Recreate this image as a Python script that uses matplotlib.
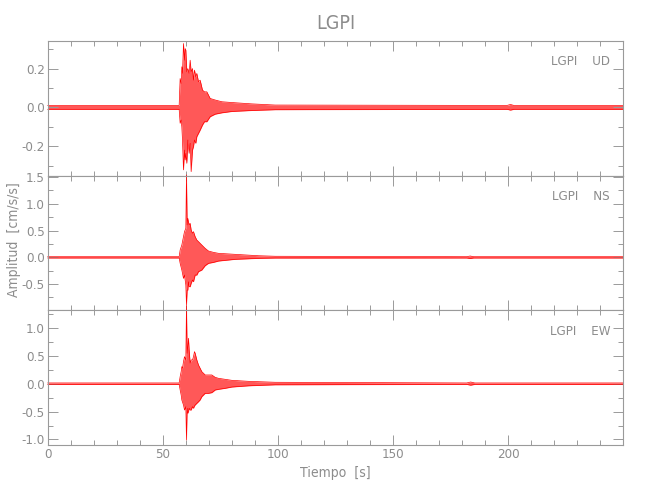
import matplotlib
matplotlib.use('Agg')
import matplotlib.pyplot as plt
from matplotlib.ticker import MultipleLocator

# envelopes (time in s, amplitude in cm/s/s)
t_ud = [0, 57.09, 57.52, 57.96, 58.25, 58.54, 58.97, 59.41, 59.70, 59.99, 60.42, 60.86,
        61.43, 61.87, 62.30, 62.88, 63.32, 63.75, 64.33, 64.77, 65.49, 66.22, 67.23,
        68.10, 69.12, 70.57, 72.74, 75.64, 79.99, 88.68, 98.83, 199.5, 201.0, 202.5, 250]
up_ud = [0.010, 0.010, 0.149, 0.123, 0.209, 0.175, 0.329, 0.243, 0.303, 0.295, 0.183, 0.200,
         0.175, 0.243, 0.183, 0.200, 0.140, 0.192, 0.157, 0.175, 0.132, 0.140, 0.089,
         0.080, 0.080, 0.046, 0.038, 0.029, 0.025, 0.018, 0.012, 0.010, 0.015, 0.010, 0.010]
lo_ud = [-0.010, -0.010, -0.082, -0.065, -0.100, -0.168, -0.322, -0.220, -0.271, -0.237, -0.288, -0.168,
         -0.237, -0.185, -0.331, -0.220, -0.202, -0.168, -0.185, -0.151, -0.134, -0.117, -0.091,
         -0.074, -0.074, -0.048, -0.035, -0.028, -0.021, -0.016, -0.012, -0.010, -0.014, -0.010, -0.010]

t_ns = [0, 57.09, 57.52, 58.25, 58.97, 59.41, 59.99, 60.27, 60.57, 60.86, 61.14, 61.43,
        61.87, 62.30, 62.88, 63.32, 64.04, 64.77, 65.49, 66.94, 68.39, 69.84, 72.01,
        74.19, 81.43, 91.58, 98.83, 182.0, 183.5, 185.0, 250]
up_ns = [0.012, 0.012, 0.137, 0.230, 0.386, 0.480, 0.543, 1.541, 0.605, 0.730, 0.667, 0.605,
         0.636, 0.511, 0.449, 0.480, 0.386, 0.324, 0.293, 0.230, 0.168, 0.118, 0.093,
         0.075, 0.056, 0.030, 0.020, 0.012, 0.025, 0.012, 0.012]
lo_ns = [-0.012, -0.012, -0.112, -0.237, -0.393, -0.331, -0.518, -0.893, -0.612, -0.612, -0.456, -0.549,
         -0.549, -0.486, -0.424, -0.456, -0.331, -0.331, -0.268, -0.237, -0.156, -0.112, -0.094,
         -0.069, -0.037, -0.019, -0.013, -0.012, -0.022, -0.012, -0.012]

t_ew = [0, 57.09, 57.52, 57.96, 58.25, 58.54, 58.97, 59.41, 59.99, 60.27, 60.57, 60.86,
        61.14, 61.43, 61.87, 62.30, 62.88, 63.32, 63.75, 64.04, 64.77, 65.49, 66.22,
        66.94, 67.67, 68.39, 69.84, 71.29, 72.74, 74.19, 77.09, 79.99, 87.23, 98.83,
        182.0, 183.7, 185.5, 250]
up_ew = [0.013, 0.013, 0.126, 0.215, 0.305, 0.275, 0.394, 0.484, 0.425, 1.40, 0.544, 0.664,
         0.814, 0.604, 0.365, 0.425, 0.425, 0.484, 0.574, 0.544, 0.425, 0.335, 0.275,
         0.215, 0.186, 0.156, 0.156, 0.156, 0.114, 0.096, 0.078, 0.060, 0.042, 0.025,
         0.013, 0.030, 0.013, 0.013]
lo_ew = [-0.013, -0.013, -0.113, -0.203, -0.293, -0.330, -0.382, -0.472, -0.412, -1.01, -0.441, -0.531,
         -0.502, -0.441, -0.472, -0.472, -0.412, -0.441, -0.400, -0.382, -0.352, -0.323, -0.290,
         -0.233, -0.203, -0.173, -0.173, -0.161, -0.113, -0.101, -0.083, -0.060, -0.038, -0.020,
         -0.013, -0.027, -0.013, -0.013]

station = 'LGPI'
components = ['UD', 'NS', 'EW']
ylims = [(-0.352, 0.342), (-0.99, 1.528), (-1.099, 1.315)]
ymajor = [0.2, 0.5, 0.5]
yminor = [0.1, 0.25, 0.25]
xticks = [0, 50, 100, 150, 200]

gray = '#9a9a9a'
tgray = '#8c8c8c'
plt.rcParams['font.family'] = ['DejaVu Sans']
plt.rcParams['font.stretch'] = 'condensed'
plt.rcParams['axes.unicode_minus'] = False

fig = plt.figure(figsize=(6.5, 5), dpi=100)
data = [(t_ud, up_ud, lo_ud), (t_ns, up_ns, lo_ns), (t_ew, up_ew, lo_ew)]
bottoms = [0.6486, 0.3794, 0.110]
axes = []
for i, (t, up, lo) in enumerate(data):
    ax = fig.add_axes([0.0734, bottoms[i], 0.8855, 0.2694])
    ax.fill_between(t, lo, up, color='#ff2020', alpha=0.75, linewidth=0)
    ax.plot(t, up, color='red', lw=0.5, clip_on=False)
    ax.plot(t, lo, color='red', lw=0.5, clip_on=False)
    ax.set_xlim(0, 250)
    ax.set_ylim(*ylims[i])
    ax.xaxis.set_major_locator(MultipleLocator(50))
    ax.xaxis.set_minor_locator(MultipleLocator(10))
    ax.yaxis.set_major_locator(MultipleLocator(ymajor[i]))
    ax.yaxis.set_minor_locator(MultipleLocator(yminor[i]))
    ax.tick_params(which='both', direction='in', top=True, right=True, color=gray,
                   width=0.7, labelcolor=tgray, labelsize=9.5, pad=2)
    ax.tick_params(which='major', length=7)
    ax.tick_params(which='minor', length=3.6)
    for s in ax.spines.values():
        s.set_color(gray)
        s.set_linewidth(0.8)
    if i < 2:
        ax.tick_params(labelbottom=False)
    ax.text(0.977, 0.845, station + '    ' + components[i], transform=ax.transAxes,
            ha='right', va='center', color=tgray, fontsize=9.5)
    axes.append(ax)

axes[2].set_xticks(xticks)
axes[2].set_xlabel('Tiempo  [s]', color=tgray, fontsize=10, labelpad=4)
fig.text(0.021, 0.52, 'Amplitud  [cm/s/s]', rotation=90, ha='center', va='center',
         color=tgray, fontsize=10)
fig.text(0.516, 0.953, station, ha='center', va='center', color=tgray, fontsize=14)

plt.savefig('out.png', dpi=100)
